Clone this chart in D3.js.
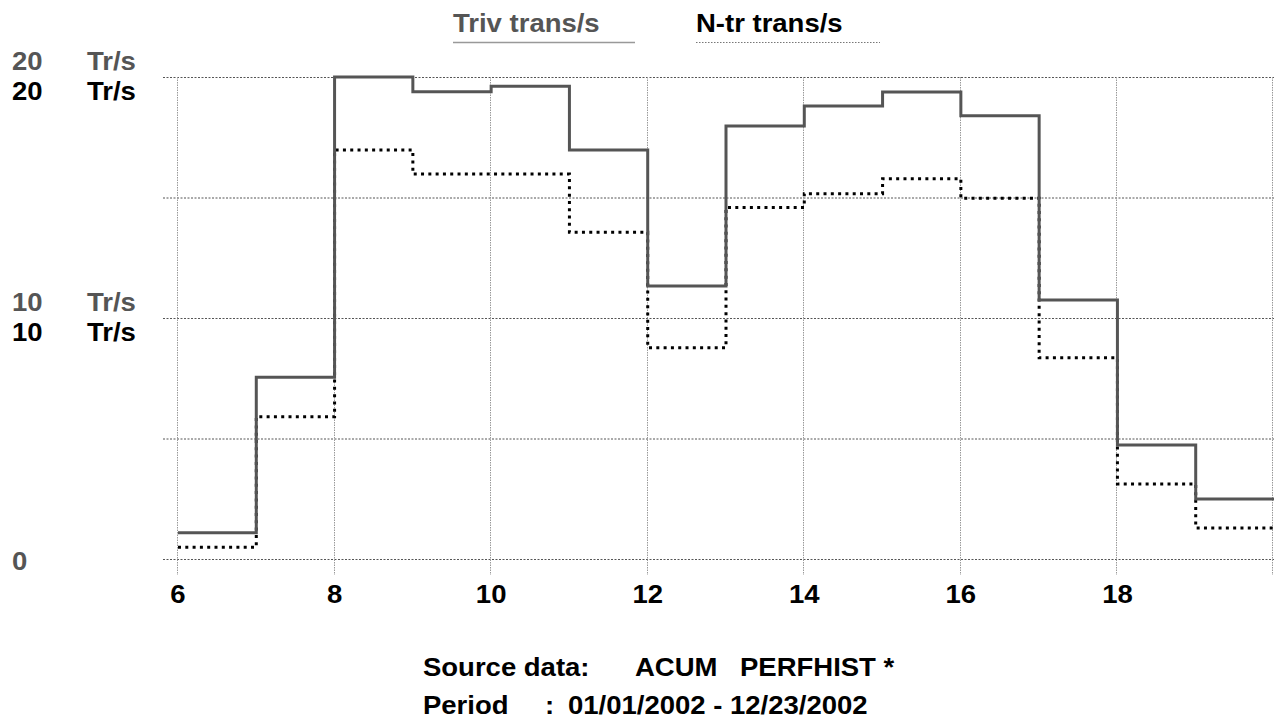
<!DOCTYPE html>
<html><head><meta charset="utf-8">
<script src="https://cdn.jsdelivr.net/npm/d3@7"></script>
<style>
html,body{margin:0;padding:0;background:#fff;}
svg{display:block;}
text{font-family:"Liberation Sans",Arial,sans-serif;font-weight:bold;}
</style></head>
<body>
<script>
// ---- data ----
const hours = [6,7,8,9,10,11,12,13,14,15,16,17,18,19];
const trivValues = [1.09,7.54,20.0,19.39,19.62,16.97,11.33,17.97,18.8,19.38,18.39,10.75,4.73,2.49];
const ntrValues  = [0.49,5.9,16.97,15.97,15.97,13.56,8.77,14.58,15.16,15.78,14.97,8.35,3.11,1.29];
const xTicks = [6,8,10,12,14,16,18];
const yGrid = [0,5,10,15,20];
const yLabels = [20,10];
const seriesNames = ["Triv trans/s","N-tr trans/s"];
const unitLabel = "Tr/s";
const footer1 = ["Source data:","ACUM","PERFHIST *"];
const footer2 = ["Period",":","01/01/2002 - 12/23/2002"];

const W = 1274, H = 719;
const FS = 25, SX = 1.1;
const svg = d3.select("body").append("svg").attr("width",W).attr("height",H);

const x = d3.scaleLinear().domain([6,20]).range([178,1274]);
const y = d3.scaleLinear().domain([0,20]).range([559,77]);

function txt(s, tx, ty, color, anchor){
  return svg.append("text").attr("transform",`translate(${tx},${ty}) scale(${SX},1)`)
    .attr("font-size",FS).attr("fill",color).attr("text-anchor",anchor||"start").text(s);
}

// grid
svg.append("g").selectAll("line").data(yGrid).join("line")
  .attr("x1",163).attr("x2",W).attr("y1",d=>y(d)+0.5).attr("y2",d=>y(d)+0.5)
  .attr("stroke","#555").attr("stroke-width",1).attr("stroke-dasharray","2,1.5");
svg.append("g").selectAll("line").data(xTicks.concat([20])).join("line")
  .attr("x1",d=>Math.min(Math.round(x(d))-0.5, W-1.5)).attr("x2",d=>Math.min(Math.round(x(d))-0.5, W-1.5))
  .attr("y1",y(20)).attr("y2",575)
  .attr("stroke","#999").attr("stroke-width",1).attr("stroke-dasharray","1.5,1");

// x tick labels
xTicks.forEach(t=>txt(String(t), x(t), 603, "#000", "middle"));

// y labels
yLabels.forEach(v=>{
  txt(String(v), 12, y(v)-7, "#555");
  txt(unitLabel, 87, y(v)-7, "#555");
  txt(String(v), 12, y(v)+23, "#000");
  txt(unitLabel, 87, y(v)+23, "#000");
});
txt("0", 12, y(0)+11, "#555");

// series lines
const line = d3.line().x(d=>x(d[0])).y(d=>y(d[1])).curve(d3.curveStepAfter);
function pts(vals){ const p = hours.map((h,i)=>[h,vals[i]]); p.push([20, vals[vals.length-1]]); return p; }
svg.append("path").attr("d",line(pts(ntrValues))).attr("fill","none")
  .attr("stroke","#000").attr("stroke-width",3).attr("stroke-dasharray","3,4.3");
svg.append("path").attr("d",line(pts(trivValues))).attr("fill","none")
  .attr("stroke","#555").attr("stroke-width",3);

// legend
txt(seriesNames[0], 453, 32, "#555");
svg.append("line").attr("x1",453).attr("x2",635).attr("y1",42.5).attr("y2",42.5)
  .attr("stroke","#999").attr("stroke-width",1.5);
txt(seriesNames[1], 696, 32, "#000");
svg.append("line").attr("x1",696).attr("x2",880).attr("y1",42.5).attr("y2",42.5)
  .attr("stroke","#777").attr("stroke-width",1).attr("stroke-dasharray","1.5,1.5");

// footer
txt(footer1[0], 423, 676, "#000");
txt(footer1[1], 635, 676, "#000");
txt(footer1[2], 740, 676, "#000");
txt(footer2[0], 423, 714, "#000");
txt(footer2[1], 545, 714, "#000");
txt(footer2[2], 568, 714, "#000");
</script>
</body></html>
